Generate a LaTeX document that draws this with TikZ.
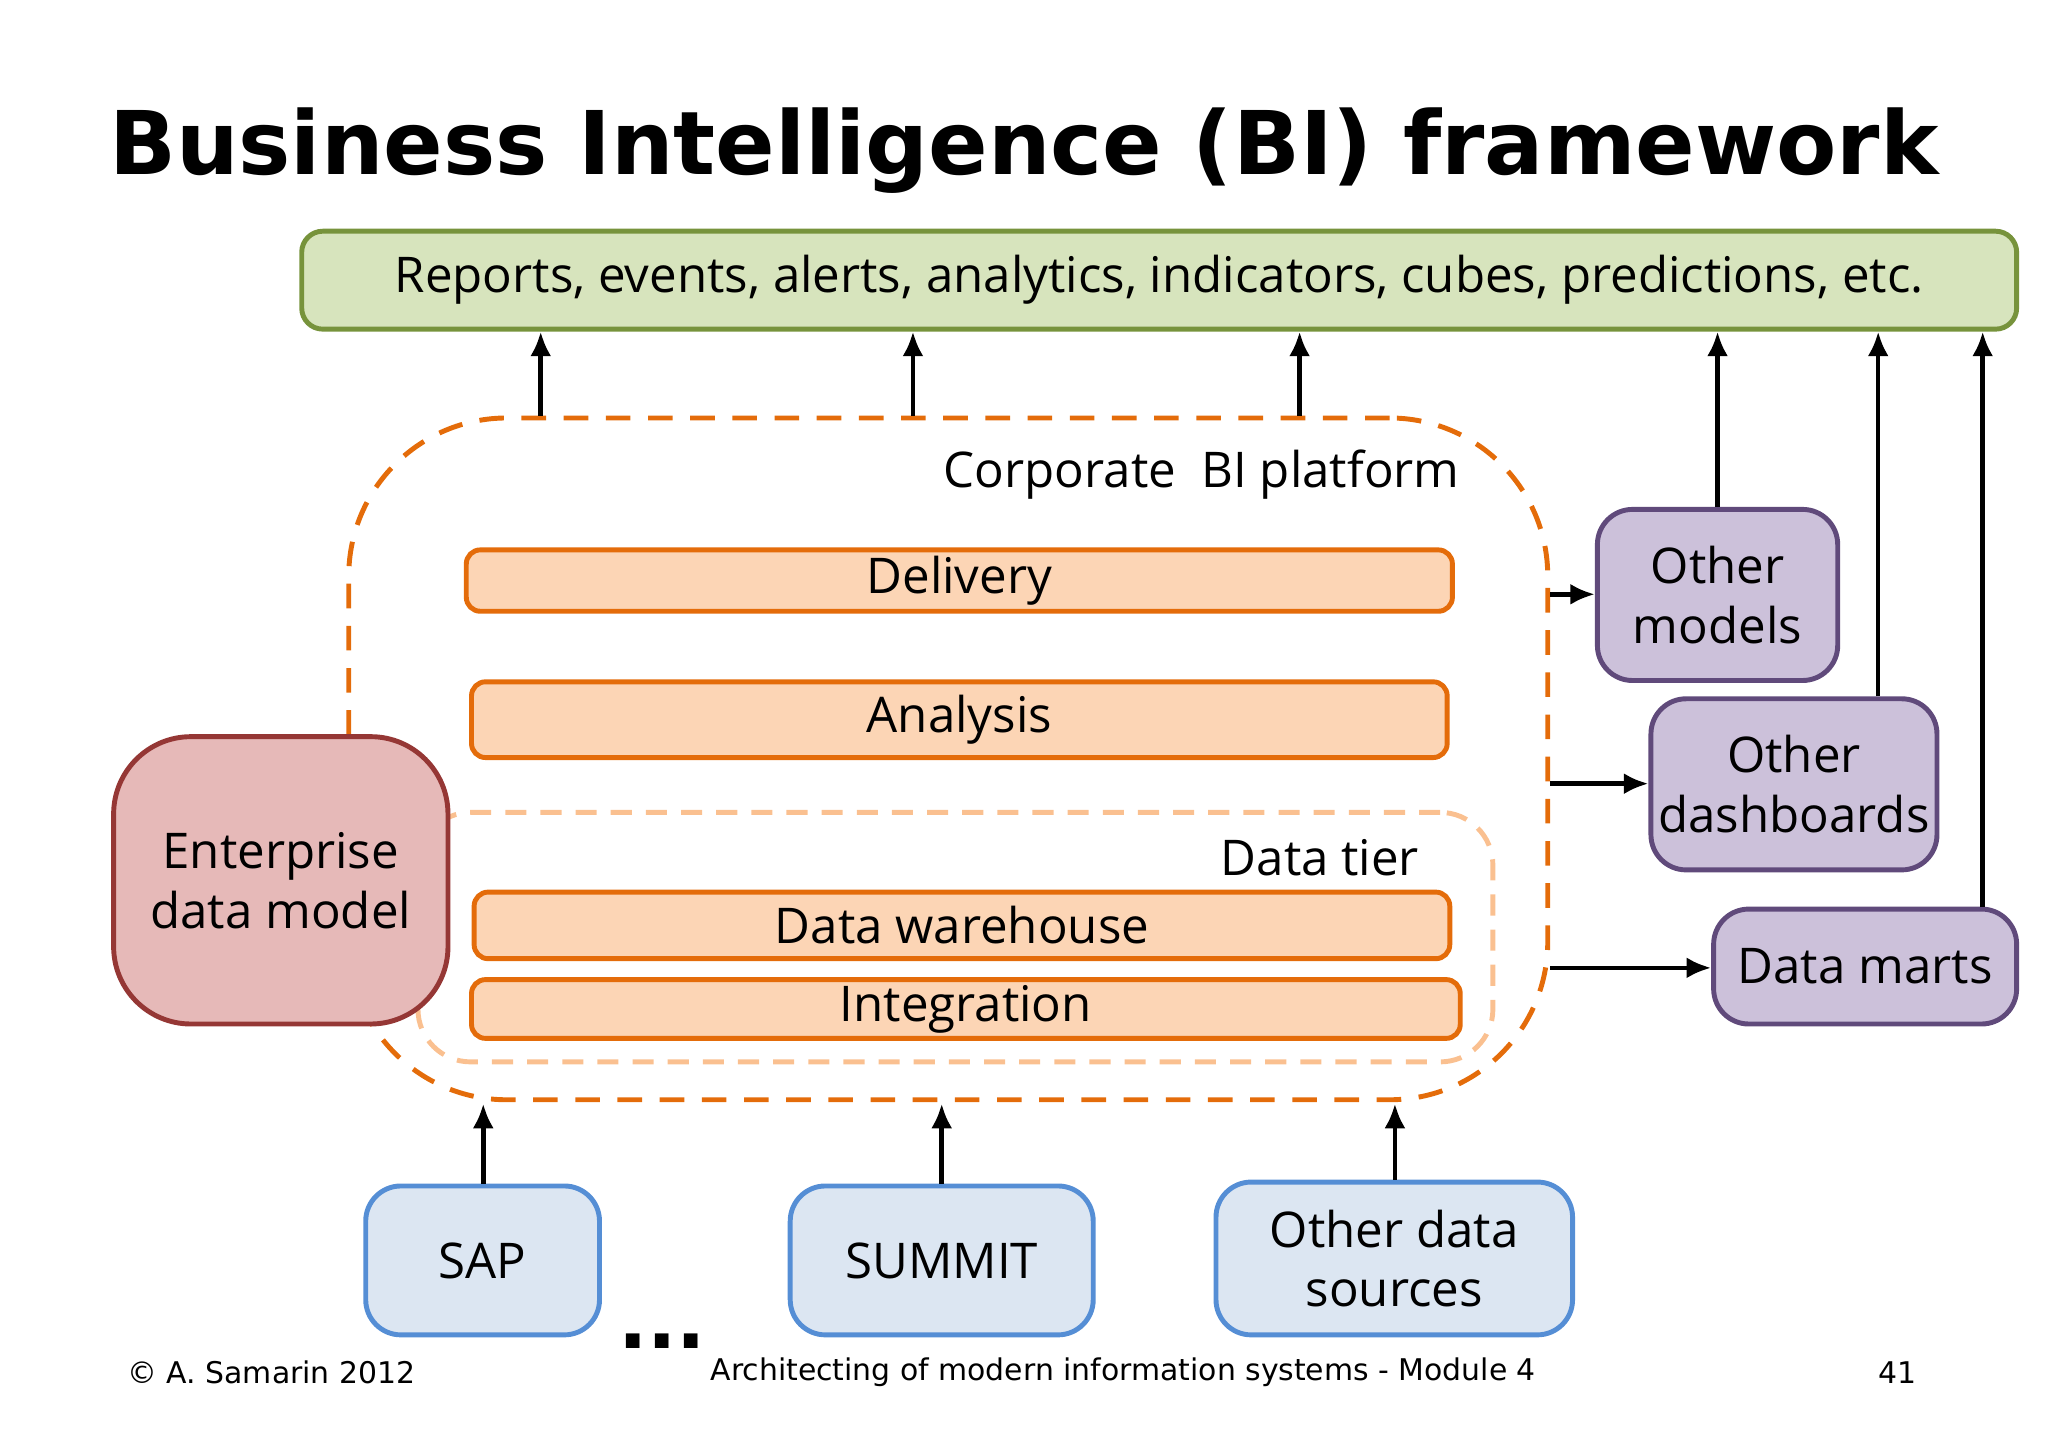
\documentclass[tikz,border=0pt]{standalone}
\usepackage{fontspec}
\setmainfont{Open Sans}
\newfontfamily\ttl{DejaVu Sans}
\usetikzlibrary{fit,arrows.meta}
\definecolor{gfill}{HTML}{D7E4BD}\definecolor{gdraw}{HTML}{77933C}
\definecolor{ofill}{HTML}{FCD5B5}\definecolor{odraw}{HTML}{E46C0A}
\definecolor{lo}{HTML}{FAC090}
\definecolor{rfill}{HTML}{E6B9B8}\definecolor{rdraw}{HTML}{953735}
\definecolor{pfill}{HTML}{CCC1DA}\definecolor{pdraw}{HTML}{604A7B}
\definecolor{bfill}{HTML}{DCE6F2}\definecolor{bdraw}{HTML}{558ED5}
\begin{document}
\begin{tikzpicture}[x=0.013061cm,y=-0.013061cm,
  bx/.style={inner sep=0pt,rounded corners=6pt,line width=1.4pt,font=\fontsize{14}{17}\selectfont,align=center},
  ob/.style={bx,fill=ofill,draw=odraw,rounded corners=4pt},
  pb/.style={bx,fill=pfill,draw=pdraw,rounded corners=10pt},
  sb/.style={bx,fill=bfill,draw=bdraw,rounded corners=10pt},
  arr/.style={line width=1.3pt,-{Latex[length=7pt,width=6pt]}}]
\useasboundingbox (0,0) rectangle (1568,1108.6);
\node[font=\ttl\bfseries\fontsize{25}{30}\selectfont] (title) at (784,115) {Business Intelligence (BI) framework};
\node[bx,fill=gfill,draw=gdraw,fit={(231,177)(1544,252)},label={[font=\fontsize{14}{17}\selectfont]center:Reports, events, alerts, analytics, indicators, cubes, predictions, etc.}] (green) {};
\node[inner sep=0pt,draw=odraw,dashed,dash pattern=on 7pt off 5pt,line width=1.4pt,rounded corners=45pt,fit={(267,320)(1185,842)}] (plat) {};
\node[anchor=east,font=\fontsize{14}{17}\selectfont] (ptl) at (1127,363) {Corporate\ \ BI platform};
\node[inner sep=0pt,draw=lo,dashed,dash pattern=on 6pt off 4pt,line width=1.4pt,rounded corners=15pt,fit={(320,622)(1143,813)}] (tier) {};
\node[anchor=east,font=\fontsize{14}{17}\selectfont] (ttl) at (1096,657) {Data tier};
\node[ob,fit={(357,421)(1112,468)},label={[font=\fontsize{14}{17}\selectfont]center:Delivery}] (del) {};
\node[ob,fit={(361,522)(1108,580)},label={[font=\fontsize{14}{17}\selectfont]center:Analysis}] (ana) {};
\node[ob,fit={(363,683)(1110,734)},label={[font=\fontsize{14}{17}\selectfont]center:Data warehouse}] (dw) {};
\node[ob,fit={(361,750)(1118,795)},label={[font=\fontsize{14}{17}\selectfont]center:Integration}] (int) {};
\node[bx,fill=rfill,draw=rdraw,rounded corners=22pt,fit={(87,564)(343,784)}] (edm) {};
\node[font=\fontsize{14}{17}\selectfont,align=center] at (edm.center) {Enterprise\\data model};
\node[pb,fit={(1223,390)(1407,521)}] (om) {};
\node[font=\fontsize{14}{17}\selectfont,align=center] at (om.center) {Other\\models};
\node[pb,fit={(1264,535)(1483,666)}] (od) {};
\node[font=\fontsize{14}{17}\selectfont,align=center] at (od.center) {Other\\dashboards};
\node[pb,fit={(1312,696)(1544,784)}] (dm) {};
\node[font=\fontsize{14}{17}\selectfont] at (dm.center) {Data marts};
\node[sb,fit={(280,908)(459,1022)}] (sap) {};
\node[font=\fontsize{14}{17}\selectfont] at (sap.center) {SAP};
\node[sb,fit={(605,908)(837,1022)}] (sum) {};
\node[font=\fontsize{14}{17}\selectfont] at (sum.center) {SUMMIT};
\node[sb,fit={(931,905)(1204,1022)}] (ods) {};
\node[font=\fontsize{14}{17}\selectfont,align=center] at (ods.center) {Other data\\sources};
\foreach \x in {414,699,995}{\draw[arr] (plat.north -| \x,0) -- (green.south -| \x,0);}
\draw[arr] (om.north -| 1315,0) -- (green.south -| 1315,0);
\draw[arr] (od.north -| 1438,0) -- (green.south -| 1438,0);
\draw[arr] (dm.north -| 1518,0) -- (green.south -| 1518,0);
\draw[arr] (plat.east |- 0,455) -- (om.west |- 0,455);
\draw[arr] (plat.east |- 0,600) -- (od.west |- 0,600);
\draw[arr] (plat.east |- 0,741) -- (dm.west |- 0,741);
\draw[arr] (sap.north -| 370,0) -- (370,845);
\draw[arr] (sum.north -| 721,0) -- (721,845);
\draw[arr] (ods.north -| 1068,0) -- (1068,845);
\node[font=\ttl\bfseries\fontsize{22}{22}\selectfont] (dots) at (507,1027) {...};
\node[anchor=west,font=\ttl\fontsize{8.5}{10}\selectfont] (cp) at (88,1051) {© A. Samarin 2012};
\node[font=\ttl\fontsize{8.5}{10}\selectfont] (ft) at (860,1051) {Architecting of modern information systems - Module 4};
\node[font=\ttl\fontsize{8.5}{10}\selectfont] (pg) at (1453,1051) {41};
\end{tikzpicture}
\end{document}
